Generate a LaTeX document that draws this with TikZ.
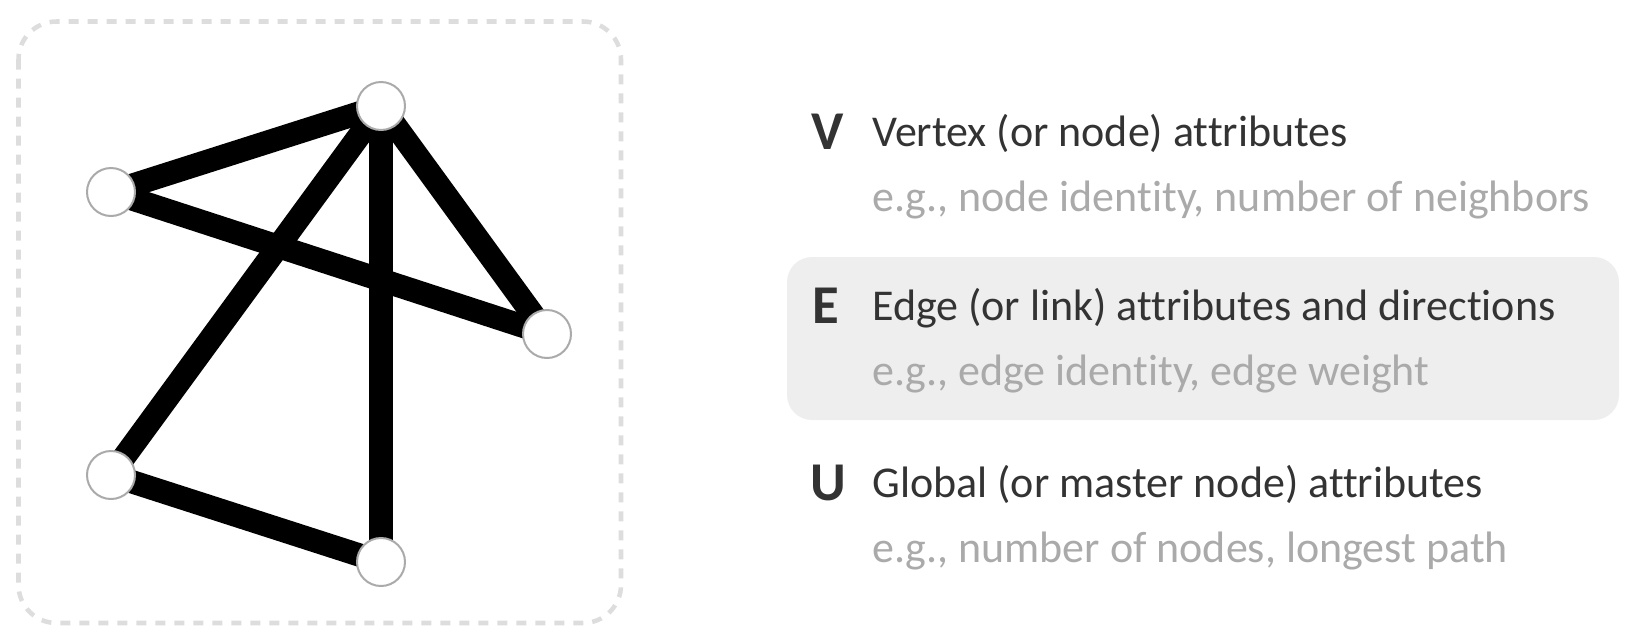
\documentclass[tikz,border=0pt]{standalone}
\usepackage{fontspec}
\setmainfont[Ligatures=NoCommon]{Carlito}
\usepackage{tikz}
\usetikzlibrary{positioning, backgrounds}

\definecolor{textdark}{HTML}{333333}
\definecolor{textlight}{HTML}{AAAAAA}
\definecolor{panelgray}{HTML}{EEEEEE}
\definecolor{framegray}{HTML}{DDDDDD}
\definecolor{ringgray}{HTML}{AAAAAA}

\begin{document}
\begin{tikzpicture}[x=0.75pt, y=-0.75pt,
  vertex/.style={circle, draw=ringgray, line width=1.5pt, fill=white, minimum size=36pt, inner sep=0pt},
  link/.style={line width=17.5pt, black},
  letter/.style={inner sep=0pt, anchor=base, text=textdark, font=\fontsize{41}{48}\selectfont\bfseries},
  heading/.style={inner sep=0pt, anchor=base west, text=textdark, font=\fontsize{33}{38}\selectfont},
  example/.style={inner sep=0pt, anchor=base west, text=textlight, font=\fontsize{33}{38}\selectfont}]
\useasboundingbox (0,0) rectangle (1631,643);

% Graph frame
\draw[framegray, line width=3.4pt, dash pattern=on 7.5pt off 6.75pt, rounded corners=28.5pt] (18.5,21.5) rectangle (621,623);

% Vertices
\node[vertex] (top) at (381,106) {};
\node[vertex] (upleft) at (111,192) {};
\node[vertex] (right) at (547,334) {};
\node[vertex] (lowleft) at (111,475) {};
\node[vertex] (bottom) at (381,562) {};

% Edges, behind the vertices
\begin{scope}[on background layer]
\foreach \a/\b in {top/upleft, top/right, top/lowleft, top/bottom, upleft/right, lowleft/bottom}
  \draw[link] (\a.center) -- (\b.center);
\end{scope}

% Highlight behind the edge row
\fill[panelgray, rounded corners=18.75pt] (787,257) rectangle (1619,420);

% Attribute list
\node[letter] (vletter) at (828,149) {V};
\node[heading] (vhead) at (872,146) {Vertex (or node) attributes};
\node[example] (vexample) at (872,211) {e.g., node identity, number of neighbors};

\node[letter] (eletter) at (826,323) {E};
\node[heading] (ehead) at (872,320) {Edge (or link) attributes and directions};
\node[example] (eexample) at (872,385) {e.g., edge identity, edge weight};

\node[letter] (uletter) at (828,500) {U};
\node[heading] (uhead) at (872,497) {Global (or master node) attributes};
\node[example] (uexample) at (872,562) {e.g., number of nodes, longest path};
\end{tikzpicture}
\end{document}
